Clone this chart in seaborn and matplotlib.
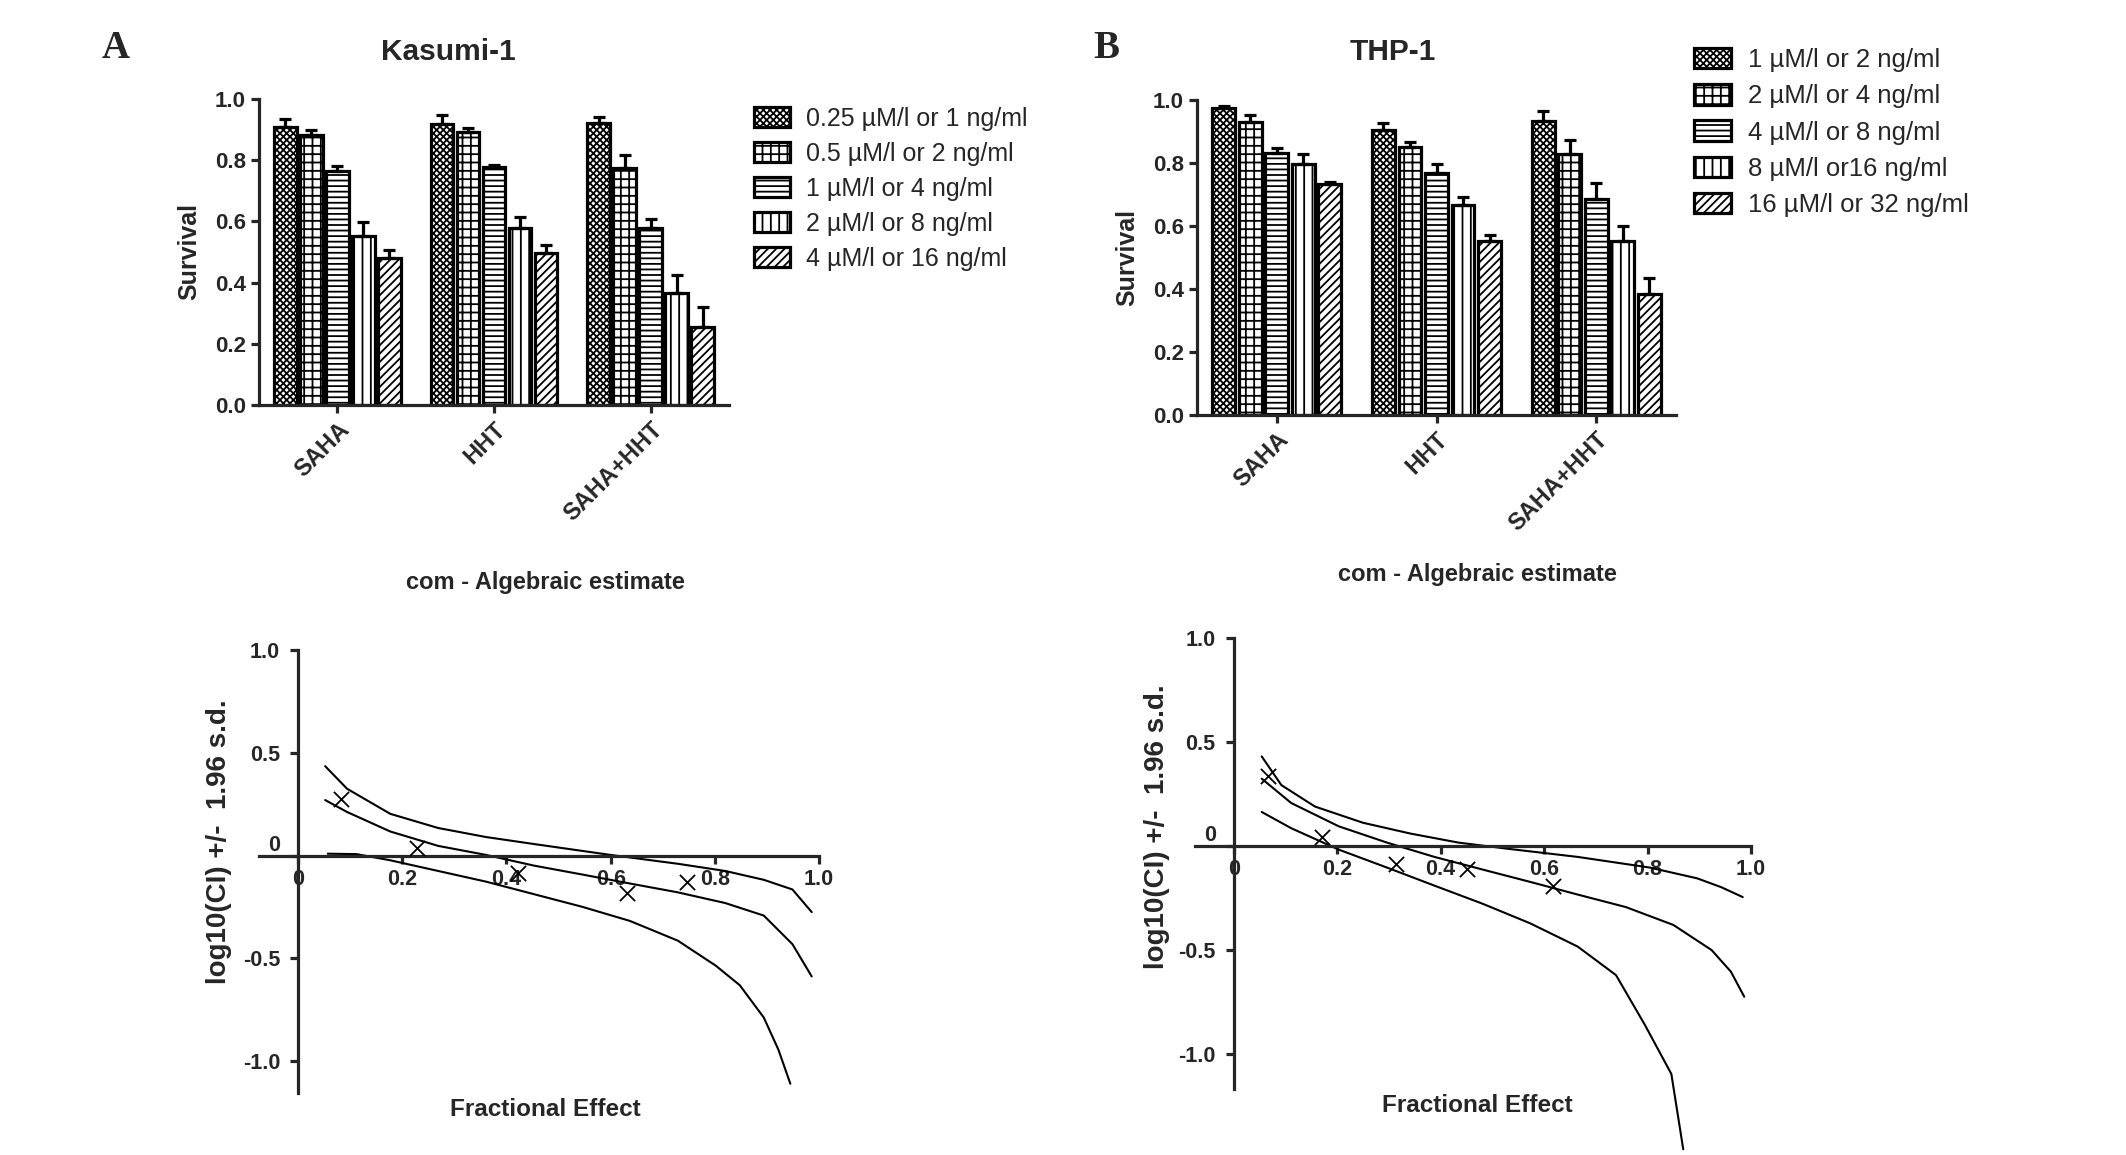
import numpy as np
import pandas as pd
import matplotlib
matplotlib.use("Agg")
import matplotlib.pyplot as plt
import matplotlib.patches as mpatches
import seaborn as sns

# ---------------------------------------------------------------
# data
# ---------------------------------------------------------------
treatments = ["SAHA", "HHT", "SAHA+HHT"]

kasumi_doses = ["0.25 µM/l or 1 ng/ml", "0.5 µM/l or 2 ng/ml", "1 µM/l or 4 ng/ml",
                "2 µM/l or 8 ng/ml", "4 µM/l or 16 ng/ml"]
kasumi_surv = [[0.910, 0.883, 0.765, 0.553, 0.481],
               [0.917, 0.892, 0.777, 0.580, 0.498],
               [0.922, 0.775, 0.577, 0.367, 0.255]]
kasumi_err = [[0.026, 0.015, 0.017, 0.046, 0.026],
              [0.032, 0.012, 0.007, 0.034, 0.024],
              [0.018, 0.041, 0.031, 0.058, 0.064]]

thp_doses = ["1 µM/l or 2 ng/ml", "2 µM/l or 4 ng/ml", "4 µM/l or 8 ng/ml",
             "8 µM/l or16 ng/ml", "16 µM/l or 32 ng/ml"]
thp_surv = [[0.974, 0.930, 0.832, 0.796, 0.733],
            [0.904, 0.852, 0.768, 0.666, 0.552],
            [0.934, 0.828, 0.687, 0.551, 0.385]]
thp_err = [[0.008, 0.023, 0.016, 0.034, 0.006],
           [0.023, 0.016, 0.028, 0.027, 0.021],
           [0.031, 0.045, 0.050, 0.048, 0.050]]

# CompuSyn CI curves (fraction affected vs log10 CI)
a_upper_fa = [0.052, 0.094, 0.177, 0.269, 0.361, 0.453, 0.600, 0.729, 0.820, 0.894, 0.949, 0.986]
a_upper_ci = [0.435, 0.325, 0.203, 0.134, 0.090, 0.056, 0.003, -0.040, -0.075, -0.118, -0.165, -0.275]
a_mid_fa = [0.052, 0.094, 0.177, 0.269, 0.361, 0.453, 0.545, 0.637, 0.729, 0.820, 0.894, 0.949, 0.986]
a_mid_ci = [0.270, 0.212, 0.117, 0.047, 0.003, -0.049, -0.092, -0.136, -0.179, -0.231, -0.292, -0.431, -0.588]
a_low_fa = [0.057, 0.112, 0.177, 0.269, 0.361, 0.453, 0.545, 0.637, 0.729, 0.802, 0.848, 0.894, 0.922, 0.945]
a_low_ci = [0.009, 0.007, -0.023, -0.075, -0.127, -0.188, -0.249, -0.318, -0.414, -0.536, -0.631, -0.788, -0.944, -1.110]
a_pts_fa = [0.083, 0.228, 0.423, 0.632, 0.747]
a_pts_ci = [0.277, 0.035, -0.083, -0.184, -0.127]

b_upper_fa = [0.054, 0.092, 0.157, 0.250, 0.342, 0.434, 0.527, 0.665, 0.804, 0.896, 0.943, 0.984]
b_upper_ci = [0.431, 0.293, 0.190, 0.112, 0.060, 0.017, -0.012, -0.052, -0.103, -0.155, -0.198, -0.245]
b_mid_fa = [0.054, 0.111, 0.203, 0.296, 0.388, 0.480, 0.573, 0.665, 0.758, 0.850, 0.924, 0.961, 0.987]
b_mid_ci = [0.324, 0.207, 0.095, 0.017, -0.052, -0.112, -0.172, -0.233, -0.293, -0.379, -0.500, -0.603, -0.724]
b_low_fa = [0.054, 0.111, 0.203, 0.296, 0.388, 0.480, 0.573, 0.665, 0.739, 0.795, 0.846, 0.869]
b_low_ci = [0.164, 0.086, -0.017, -0.103, -0.190, -0.276, -0.371, -0.483, -0.620, -0.860, -1.095, -1.457]
b_pts_fa = [0.067, 0.171, 0.314, 0.451, 0.617]
b_pts_ci = [0.336, 0.043, -0.086, -0.109, -0.190]

hatches = ["xxxxx", "++", "---", "||", "////"]

# ---------------------------------------------------------------
# style
# ---------------------------------------------------------------
sns.set_style("ticks")
plt.rcParams["font.family"] = ["Liberation Sans", "DejaVu Sans"]
plt.rcParams["hatch.linewidth"] = 1.3
LW = 2.3

fig = plt.figure(figsize=(21.26, 11.55), dpi=100)
W, H = 2126, 1155


def bar_panel(rect, surv, err, doses, title, title_xy, leg_anchor, leg_fs, leg_sp):
    ax = fig.add_axes(rect)
    df = pd.DataFrame([(t, d, surv[i][j]) for i, t in enumerate(treatments)
                       for j, d in enumerate(doses)],
                      columns=["treatment", "dose", "survival"])
    sns.barplot(data=df, x="treatment", y="survival", hue="dose",
                order=treatments, hue_order=doses, palette=["white"] * 5,
                edgecolor="black", linewidth=LW, width=0.83, gap=0.14,
                errorbar=None, legend=False, ax=ax)
    bar_groups = list(ax.containers)
    for j, cont in enumerate(bar_groups):
        xs, hs = [], []
        for bar in cont.patches:
            bar.set_hatch(hatches[j])
            xs.append(bar.get_x() + bar.get_width() / 2)
            hs.append(bar.get_height())
        e = [err[i][j] for i in range(len(treatments))]
        ax.errorbar(xs, hs, yerr=[np.zeros(len(e)), e], fmt="none",
                    ecolor="black", elinewidth=LW, capsize=4, capthick=LW)
    ax.set_xlim(-0.5, 2.5)
    ax.set_ylim(0, 1.0)
    ax.set_yticks(np.arange(0, 1.01, 0.2))
    ax.set_yticklabels([f"{v:.1f}" for v in np.arange(0, 1.01, 0.2)],
                       fontsize=16, fontweight="bold")
    ax.set_xticks(range(len(treatments)))
    ax.set_xticklabels(treatments, rotation=45, ha="right", rotation_mode="anchor",
                       fontsize=17, fontweight="bold")
    ax.tick_params(width=LW, length=6)
    ax.set_xlabel("")
    ax.set_ylabel("Survival", fontsize=18, fontweight="bold", labelpad=10)
    for s in ["left", "bottom"]:
        ax.spines[s].set_linewidth(LW)
    sns.despine(ax=ax)
    fig.text(title_xy[0], title_xy[1], title, ha="center", va="center",
             fontsize=21.5, fontweight="bold")
    handles = [mpatches.Patch(facecolor="white", edgecolor="black", hatch=h,
                              linewidth=LW, label=d) for h, d in zip(hatches, doses)]
    fig.legend(handles=handles, loc="upper left", bbox_to_anchor=leg_anchor,
               frameon=False, fontsize=leg_fs, handlelength=1.45, handleheight=0.85,
               labelspacing=leg_sp, handletextpad=0.65, borderpad=0, borderaxespad=0)
    return ax


def ci_panel(rect, curves, pts, ylow, spine_low, title_xy, xlabel_xy, ylabel_xy):
    ax = fig.add_axes(rect)
    for fa, ci in curves:
        sns.lineplot(x=fa, y=ci, color="black", linewidth=1.5, sort=False,
                     estimator=None, ax=ax)
    sns.scatterplot(x=pts[0], y=pts[1], marker="x", s=120, color="black",
                    linewidth=1.3, ax=ax, zorder=5)
    ax.set_xlim(-0.075, 1.0)
    ax.set_ylim(ylow, 1.0)
    ax.spines["left"].set_position(("data", 0))
    ax.spines["bottom"].set_position(("data", 0))
    ax.spines["left"].set_bounds(spine_low, 1.0)
    for s in ["left", "bottom"]:
        ax.spines[s].set_linewidth(LW)
    sns.despine(ax=ax)
    ax.set_xticks([0, 0.2, 0.4, 0.6, 0.8, 1.0])
    ax.set_xticklabels(["0", "0.2", "0.4", "0.6", "0.8", "1.0"],
                       fontsize=15.5, fontweight="bold")
    ax.set_yticks([-1.0, -0.5, 0, 0.5, 1.0])
    ax.set_yticklabels(["-1.0", "-0.5", "0", "0.5", "1.0"],
                       fontsize=15.5, fontweight="bold")
    ax.get_yticklabels()[2].set_verticalalignment("bottom")
    ax.tick_params(width=LW, length=6)
    ax.tick_params(axis="y", pad=7)
    ax.set_xlabel("")
    ax.set_ylabel("")
    ax.patch.set_alpha(0)
    fig.text(title_xy[0], title_xy[1], "com - Algebraic estimate", ha="center",
             va="center", fontsize=17, fontweight="bold")
    fig.text(xlabel_xy[0], xlabel_xy[1], "Fractional Effect", ha="center",
             va="center", fontsize=17.5, fontweight="bold")
    fig.text(ylabel_xy[0], ylabel_xy[1], "log10(CI) +/-  1.96 s.d.",
             rotation=90, ha="center", va="center", fontsize=20, fontweight="bold")
    return ax


bar_panel([259 / W, 1 - 405 / H, 470 / W, 306 / H], kasumi_surv, kasumi_err,
          kasumi_doses, "Kasumi-1", (448 / W, 1 - 52 / H),
          (754 / W, 1 - 107 / H), 18, 0.44)
bar_panel([1197 / W, 1 - 415 / H, 479 / W, 315 / H], thp_surv, thp_err,
          thp_doses, "THP-1", (1393 / W, 1 - 52 / H),
          (1694 / W, 1 - 48 / H), 18.5, 0.47)

ci_panel([259 / W, 1 - 1094 / H, 560 / W, 444 / H],
         [(a_upper_fa, a_upper_ci), (a_mid_fa, a_mid_ci), (a_low_fa, a_low_ci)],
         (a_pts_fa, a_pts_ci), -1.16, -1.155,
         (545 / W, 1 - 583 / H), (545 / W, 1 - 1110 / H), (219 / W, 1 - 842 / H))
ci_panel([1195 / W, 1 - 1152 / H, 556 / W, 514 / H],
         [(b_upper_fa, b_upper_ci), (b_mid_fa, b_mid_ci), (b_low_fa, b_low_ci)],
         (b_pts_fa, b_pts_ci), -1.47, -1.165,
         (1477 / W, 1 - 574 / H), (1477 / W, 1 - 1106 / H), (1157 / W, 1 - 827 / H))

fig.text(116 / W, 1 - 49 / H, "A", ha="center", va="center", fontsize=28,
         fontweight="bold", family=["Liberation Serif", "DejaVu Serif"])
fig.text(1106 / W, 1 - 49 / H, "B", ha="center", va="center", fontsize=28,
         fontweight="bold", family=["Liberation Serif", "DejaVu Serif"])

fig.savefig("out.png", dpi=100, facecolor="white")
